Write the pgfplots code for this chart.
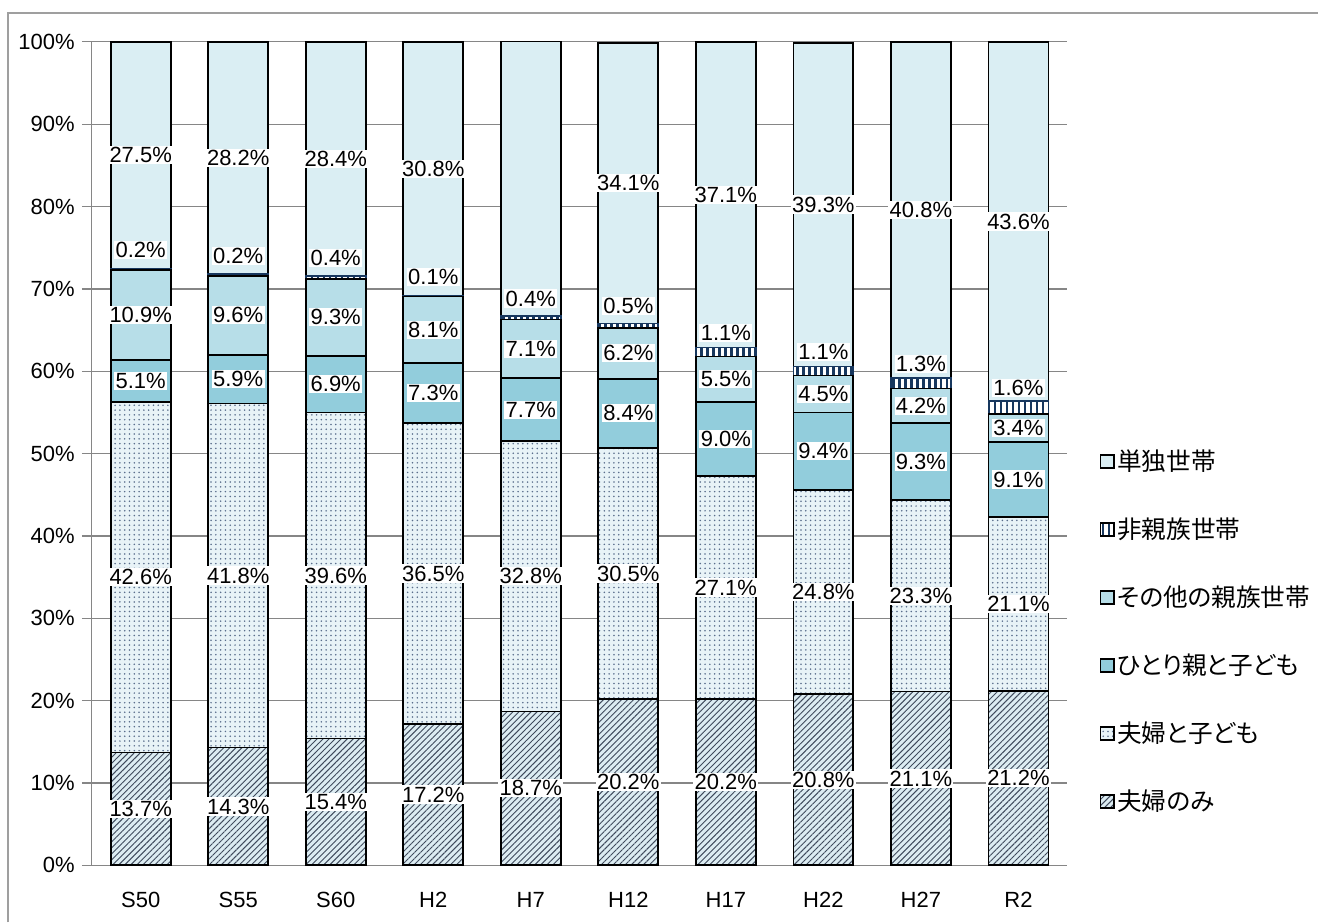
\documentclass[border=0pt]{standalone}
\usepackage{pgfplots}
\pgfplotsset{compat=1.18}
\usepackage{pgfplotstable}
\usepackage{fontspec}
\setmainfont{Liberation Sans}
\newfontfamily\jp[RawFeature=+palt]{Noto Sans CJK JP}
\usetikzlibrary{patterns.meta}

\definecolor{cTan}{HTML}{DAEEF3}
\definecolor{cSon}{HTML}{B7DEE8}
\definecolor{cHit}{HTML}{92CDDC}
\definecolor{cNavy}{HTML}{17375E}
\definecolor{cDot}{HTML}{5A6E8C}
\definecolor{cDotBg}{HTML}{E8F3F7}
\definecolor{cHatch}{HTML}{3F4A5C}
\definecolor{cHatchBg}{HTML}{DCECF2}
\definecolor{cGrid}{HTML}{868686}

% 構成比 (%)
\pgfplotstableread{
i cat fufu fufuko hitori sonota hishin tandoku
0 S50 13.7 42.6 5.1 10.9 0.2 27.5
1 S55 14.3 41.8 5.9 9.6 0.2 28.2
2 S60 15.4 39.6 6.9 9.3 0.4 28.4
3 H2 17.2 36.5 7.3 8.1 0.1 30.8
4 H7 18.7 32.8 7.7 7.1 0.4 33.4
5 H12 20.2 30.5 8.4 6.2 0.5 34.1
6 H17 20.2 27.1 9.0 5.5 1.1 37.1
7 H22 20.8 24.8 9.4 4.5 1.1 39.3
8 H27 21.1 23.3 9.3 4.2 1.3 40.8
9 R2 21.2 21.1 9.1 3.4 1.6 43.6
}\data

% align=center already puts a stacked label mid-segment
\pgfplotsset{
  lbl/.style={
    visualization depends on=\thisrow{#1} \as \rawy,
    nodes near coords={\pgfmathprintnumber[fixed,fixed zerofill,precision=1]{\rawy}\%},
  },
  midlabel/.style={
    lbl=#1,
    nodes near coords align=center,
    every node near coord/.append style={anchor=center},
  },
}

\begin{document}
\begin{tikzpicture}
\begin{axis}[
  name=ax,
  scale only axis,
  width=732pt, height=618pt,
  ybar stacked,
  bar width=45pt,
  xmin=-0.5, xmax=9.5,
  ymin=0, ymax=100,
  xtick={0,...,9},
  xticklabels from table={\data}{cat},
  major x tick style={draw=none},
  extra x ticks={-0.5,0.5,...,9.5},
  extra x tick labels={},
  extra x tick style={grid=none, major tick length=5pt, tick style={cGrid, line width=0.8pt}},
  ytick={0,10,...,100},
  yticklabel={\pgfmathprintnumber{\tick}\%},
  /pgf/number format/assume math mode=true,
  tick align=outside,
  major tick length=7.5pt,
  y tick style={cGrid, line width=0.8pt},
  ymajorgrids,
  grid style={cGrid, line width=0.8pt},
  axis x line*=bottom,
  axis y line*=left,
  axis line style={cGrid, line width=0.8pt},
  tick label style={font=\fontsize{16.5}{19}\selectfont},
  xticklabel style={yshift=-9pt},
  yticklabel style={xshift=-2pt},
  every node near coord/.append style={font=\fontsize{16.5}{19}\selectfont, fill=white, inner sep=1pt, text=black},
  reverse legend,
  legend style={at={(1.033,0.284)}, anchor=west, draw=none, fill=none, inner sep=0pt,
    row sep=30pt, font=\jp\fontsize{18.5}{21}\selectfont, cells={anchor=west},
    every odd column/.style={column sep=6pt}},
  legend image code/.code={\draw[#1, draw=black, line width=1.2pt] (0pt,-5pt) rectangle (10pt,5pt);},
  every axis plot/.append style={draw=black, line width=1.3pt},
]
\addplot[fill=cHatchBg, postaction={pattern={Lines[angle=45,distance=3.2pt,line width=0.7pt]}, pattern color=cHatch}, midlabel=fufu]
  table[x=i, y=fufu] {\data};
\addlegendentry{夫婦のみ}
\addplot[fill=cDotBg, postaction={pattern={Dots[radius=0.65pt,distance=3.6pt]}, pattern color=cDot}, midlabel=fufuko]
  table[x=i, y=fufuko] {\data};
\addlegendentry{夫婦と子ども}
\addplot[fill=cHit, midlabel=hitori]
  table[x=i, y=hitori] {\data};
\addlegendentry{ひとり親と子ども}
\addplot[fill=cSon, midlabel=sonota]
  table[x=i, y=sonota] {\data};
\addlegendentry{その他の親族世帯}
\addplot[fill=white, postaction={pattern={Lines[angle=90,distance=4.5pt,line width=1.8pt]}, pattern color=cNavy},
  draw=cNavy, lbl=hishin, every node near coord/.append style={anchor=south, yshift=7pt}]
  table[x=i, y=hishin] {\data};
\addlegendentry{非親族世帯}
\addplot[fill=cTan, midlabel=tandoku]
  table[x=i, y=tandoku] {\data};
\addlegendentry{単独世帯}
\end{axis}
\path ([shift={(-69pt,-42.75pt)}]ax.south west) rectangle ([shift={(920.25pt,649.5pt)}]ax.south west);
\draw[gray!75, line width=1.5pt] ([shift={(-63pt,-42.75pt)}]ax.south west) -- ([shift={(-63pt,639.75pt)}]ax.south west) -- ([shift={(920.25pt,639.75pt)}]ax.south west);
\end{tikzpicture}
\end{document}
